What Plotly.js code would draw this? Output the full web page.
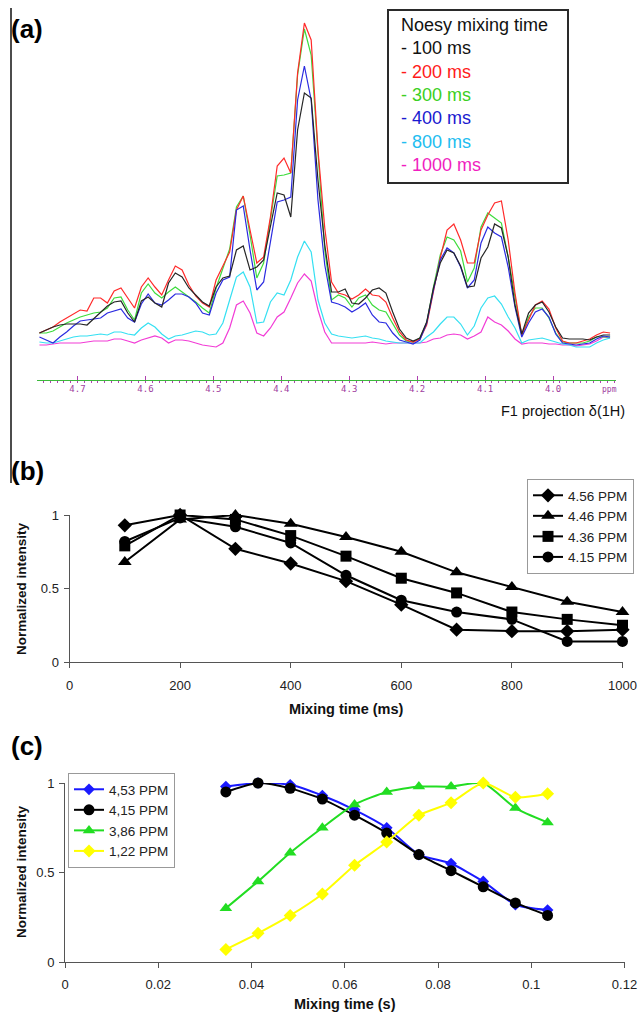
<!DOCTYPE html>
<html><head><meta charset="utf-8">
<script src="https://cdn.plot.ly/plotly-3.0.1.min.js"></script>
<style>html,body{margin:0;padding:0;background:#fff}#chart{width:640px;height:1014px}</style>
</head><body><div id="chart"></div>
<script>
// ---------- Panel (a): F1 projections (chemical shift, ppm) ----------
const ppm = [4.756,4.746,4.736,4.726,4.716,4.706,4.696,4.686,4.676,4.666,4.656,4.646,4.636,4.626,4.616,4.606,4.596,4.586,4.576,4.566,4.556,4.546,4.536,4.526,4.516,4.506,4.496,4.486,4.476,4.466,4.456,4.446,4.436,4.426,4.416,4.406,4.396,4.386,4.376,4.366,4.356,4.346,4.336,4.326,4.316,4.306,4.296,4.286,4.276,4.266,4.256,4.246,4.236,4.226,4.216,4.206,4.196,4.186,4.176,4.166,4.156,4.146,4.136,4.126,4.116,4.106,4.096,4.086,4.076,4.066,4.056,4.046,4.036,4.026,4.016,4.006,3.996,3.986,3.976,3.966,3.956,3.946,3.936,3.926,3.916];
const spec100 = [17,20,23,25,26,26,26,25,31,37,44,48,49,37,28,49,53,47,43,67,77,73,62,55,48,44,63,72,74,100,104,80,83,90,125,157,155,133,220,257,252,170,105,58,58,61,47,46,52,60,62,57,38,21,12,9,12,28,62,87,100,97,84,63,64,92,103,126,122,93,45,16,37,45,48,38,23,12,11,11,11,10,13,15,15];
const spec200 = [17,20,23,28,32,36,40,39,52,52,47,59,62,52,42,63,72,63,55,70,84,80,65,54,47,43,70,84,98,140,154,120,87,93,133,184,192,177,277,327,310,200,122,68,57,55,51,55,61,55,54,48,32,18,10,8,11,25,57,92,120,126,110,87,87,120,135,147,149,110,57,15,30,45,49,41,22,9,7,7,9,11,15,18,17];
const spec300 = [17,17,19,23,27,30,33,35,37,38,42,52,53,40,30,57,66,57,52,58,63,58,53,48,42,37,62,82,101,143,154,115,72,87,130,174,175,177,275,321,295,195,100,50,55,52,43,52,55,45,40,38,27,15,9,8,12,27,63,95,113,110,99,68,82,123,137,132,127,93,53,14,33,42,42,32,17,8,7,7,7,9,13,13,13];
const spec400 = [13,10,7,13,18,24,29,30,31,32,37,39,41,32,28,46,56,47,45,50,56,56,53,47,37,35,57,70,73,140,144,100,60,68,110,148,150,153,250,284,250,150,85,48,46,43,38,42,47,35,28,27,17,10,8,6,10,27,60,90,102,97,83,62,70,107,123,117,113,83,43,13,27,38,41,33,16,7,6,5,6,7,11,14,13];
const spec800 = [8,7,7,9,11,13,14,14,15,16,15,18,18,16,15,22,27,23,16,11,14,15,17,19,18,15,16,27,50,73,78,63,27,28,48,57,55,70,93,109,98,50,27,16,14,13,12,13,14,12,11,9,8,7,7,7,7,13,18,26,33,33,26,15,24,42,52,54,46,33,22,7,10,11,12,10,8,6,5,3,3,3,7,10,12];
const spec1000 = [5,5,6,7,7,7,7,8,9,9,9,11,11,9,7,10,12,14,12,7,10,10,9,7,5,4,3,7,22,45,49,37,17,14,22,33,38,52,67,76,69,40,18,7,7,7,7,7,7,8,7,6,7,7,7,7,7,8,11,12,15,16,15,11,14,18,33,28,25,19,11,6,7,7,7,6,6,5,5,4,5,6,9,13,12];
const specNames = ['100 ms','200 ms','300 ms','400 ms','800 ms','1000 ms'];
const specTickVals = [4.7,4.6,4.5,4.4,4.3,4.2,4.1,4.0];
const specTickText = ['4.7','4.6','4.5','4.4','4.3','4.2','4.1','4.0'];

// ---------- Panel (b) ----------
const mixB = [100,200,300,400,500,600,700,800,900,1000];
const b456 = [0.93,1.0,0.77,0.67,0.55,0.39,0.22,0.21,0.21,0.22];
const b446 = [0.68,0.97,1.0,0.94,0.85,0.75,0.61,0.51,0.41,0.34];
const b436 = [0.79,1.0,0.97,0.86,0.72,0.57,0.47,0.34,0.29,0.25];
const b415 = [0.82,0.98,0.92,0.81,0.59,0.42,0.34,0.29,0.14,0.14];
const bNames = ['4.56 PPM','4.46 PPM','4.36 PPM','4.15 PPM'];
const bTicks = [0,200,400,600,800,1000];

// ---------- Panel (c) ----------
const mixC = [0.0345,0.0414,0.0483,0.0552,0.0621,0.069,0.0759,0.0828,0.0897,0.0966,0.1035];
const c453 = [0.98,1.0,0.99,0.93,0.85,0.75,0.60,0.55,0.45,0.32,0.29];
const c415 = [0.95,1.0,0.97,0.91,0.82,0.72,0.60,0.51,0.42,0.33,0.26];
const c386 = [0.30,0.45,0.61,0.75,0.88,0.95,0.98,0.98,1.0,0.86,0.78];
const c122 = [0.07,0.16,0.26,0.38,0.54,0.67,0.82,0.89,1.0,0.92,0.94];
const cNames = ['4,53 PPM','4,15 PPM','3,86 PPM','1,22 PPM'];
const cTickVals = [0,0.02,0.04,0.06,0.08,0.1,0.12];
const cTickText = ['0','0.02','0.04','0.06','0.08','0.1','0.12'];

// ---------- styling ----------
const W = 640, H = 1014;
const px = v => v / W;
const py = v => 1 - v / H;
const FONT = 'Liberation Sans, Arial, sans-serif';

const specData = [spec100, spec200, spec300, spec400, spec800, spec1000];
const specLine = ['#262626','#ff2a2a','#3ddc3d','#2a2ae0','#35e0f2','#f23cd6'];
const specText = ['#111111','#ff1a1a','#3ccf22','#1a1ad0','#22bdf0','#f01ec0'];
const drawOrder = [5,4,2,1,3,0];

const traces = [];
drawOrder.forEach(i => {
  traces.push({x: ppm, y: specData[i], type:'scatter', mode:'lines', xaxis:'x', yaxis:'y',
    line:{color: specLine[i], width:1.2}, showlegend:false, hoverinfo:'skip', name: specNames[i]});
});

const bSeries = [b456,b446,b436,b415];
const bSymbols = ['diamond','triangle-up','square','circle'];
const bSizes = [11,12,11,11];
bSeries.forEach((s,i) => {
  traces.push({x: mixB, y: s, type:'scatter', mode:'lines+markers', xaxis:'x2', yaxis:'y2',
    name: bNames[i], legend:'legend', cliponaxis:false,
    line:{color:'#000', width:2}, marker:{symbol:bSymbols[i], size:bSizes[i], color:'#000'}});
});

const cSeries = [c453,c415,c386,c122];
const cColors = ['#1a1aff','#000000','#22dd22','#ffff00'];
const cSymbols = ['diamond','circle','triangle-up','diamond'];
const cSizes = [9,11,11,10];
cSeries.forEach((s,i) => {
  traces.push({x: mixC, y: s, type:'scatter', mode:'lines+markers', xaxis:'x3', yaxis:'y3',
    name: cNames[i], legend:'legend2', cliponaxis:false,
    line:{color:cColors[i], width:2, shape:'spline', smoothing:0.6},
    marker:{symbol:cSymbols[i], size:cSizes[i], color:cColors[i]}});
});

const axTick = {family: FONT, size: 13, color: '#222'};
const annotations = [
  {text:'<b>(a)</b>', x:px(9), y:py(29), xanchor:'left', yanchor:'middle', font:{family:FONT, size:26, color:'#000'}},
  {text:'<b>(b)</b>', x:px(9), y:py(471), xanchor:'left', yanchor:'middle', font:{family:FONT, size:26, color:'#000'}},
  {text:'<b>(c)</b>', x:px(9), y:py(746), xanchor:'left', yanchor:'middle', font:{family:FONT, size:26, color:'#000'}},
  {text:'Noesy mixing time', x:px(399), y:py(25), xanchor:'left', yanchor:'middle', font:{family:FONT, size:18, color:'#111'}},
  {text:'F1 projection \u03b4(1H)', x:px(627), y:py(411), xanchor:'right', yanchor:'middle', font:{family:FONT, size:14.5, color:'#111'}},
  {text:'ppm', x:px(609), y:py(390), xanchor:'center', yanchor:'middle', font:{family:'DejaVu Sans Mono, monospace', size:8, color:'#a040a0'}},
  {text:'<b>Normalized intensity</b>', x:px(21), y:py(589), textangle:-90, xanchor:'center', yanchor:'middle', font:{family:FONT, size:13.5, color:'#111'}},
  {text:'<b>Mixing time (ms)</b>', x:px(346), y:py(709), xanchor:'center', yanchor:'middle', font:{family:FONT, size:14.5, color:'#111'}},
  {text:'<b>Normalized intensity</b>', x:px(21), y:py(872), textangle:-90, xanchor:'center', yanchor:'middle', font:{family:FONT, size:13.5, color:'#111'}},
  {text:'<b>Mixing time (s)</b>', x:px(345), y:py(1004), xanchor:'center', yanchor:'middle', font:{family:FONT, size:14.5, color:'#111'}}
];
const legendRows = [48,72,95,118,142,165];
specNames.forEach((n,i) => {
  annotations.push({text:'- ' + n, x:px(399), y:py(legendRows[i]), xanchor:'left', yanchor:'middle',
    font:{family:FONT, size:18, color:specText[i]}});
});
annotations.forEach(a => { a.xref='paper'; a.yref='paper'; a.showarrow=false; });

const shapes = [
  {type:'line', xref:'paper', yref:'paper', x0:px(11), x1:px(11), y0:py(8), y1:py(483), line:{color:'#111', width:1.5}},
  {type:'rect', xref:'paper', yref:'paper', x0:px(388), x1:px(568), y0:py(10), y1:py(183), line:{color:'#2a2a2a', width:2}, fillcolor:'rgba(255,255,255,0)', layer:'above'}
];

const layout = {
  width:W, height:H, margin:{l:0,r:0,t:0,b:0}, paper_bgcolor:'#fff', plot_bgcolor:'rgba(0,0,0,0)',
  font:{family:FONT, color:'#222'},
  showlegend:true,
  xaxis:{domain:[px(37), px(616)], range:[4.7596, 3.9073], anchor:'y', showgrid:false, zeroline:false,
    showline:true, linecolor:'#3cb83c', linewidth:1,
    tickmode:'array', tickvals:specTickVals, ticktext:specTickText,
    ticks:'inside', ticklen:4, tickcolor:'#b040b0', tickwidth:1,
    minor:{tickmode:'linear', tick0:4.0, dtick:0.01, ticks:'outside', ticklen:2, tickcolor:'#b040b0', showgrid:false},
    tickfont:{family:'DejaVu Sans Mono, monospace', size:9, color:'#a040a0'}, fixedrange:true},
  yaxis:{domain:[py(380), 1], range:[-30, 350], anchor:'x', visible:false, fixedrange:true},
  xaxis2:{domain:[px(69.5), px(622.5)], range:[0,1000], anchor:'y2', showgrid:false, zeroline:false,
    showline:true, linecolor:'#555', linewidth:1, tickmode:'array', tickvals:bTicks,
    ticks:'outside', ticklen:5, tickcolor:'#555', tickfont:axTick, ticklabelstandoff:6},
  yaxis2:{domain:[py(662), py(515)], range:[0,1], anchor:'x2', showgrid:false, zeroline:false,
    showline:true, linecolor:'#555', linewidth:1, tickmode:'array', tickvals:[0,0.5,1], ticktext:['0','0.5','1'],
    ticks:'outside', ticklen:5, tickcolor:'#555', tickfont:axTick, ticklabelstandoff:2},
  xaxis3:{domain:[px(65), px(624.5)], range:[0,0.12], anchor:'y3', showgrid:false, zeroline:false,
    showline:true, linecolor:'#555', linewidth:1, tickmode:'array', tickvals:cTickVals, ticktext:cTickText,
    ticks:'outside', ticklen:5, tickcolor:'#555', tickfont:axTick, ticklabelstandoff:5},
  yaxis3:{domain:[py(962), py(783)], range:[0,1], anchor:'x3', showgrid:false, zeroline:false,
    showline:true, linecolor:'#555', linewidth:1, tickmode:'array', tickvals:[0,0.5,1], ticktext:['0','0.5','1'],
    ticks:'outside', ticklen:5, tickcolor:'#555', tickfont:axTick, ticklabelstandoff:2},
  legend:{x:px(527), y:py(479), xanchor:'left', yanchor:'top', bgcolor:'#fff', bordercolor:'#999', borderwidth:1,
    font:{family:FONT, size:13.5, color:'#222'}, tracegroupgap:0, itemwidth:30},
  legend2:{x:px(68), y:py(773), xanchor:'left', yanchor:'top', bgcolor:'#fff', bordercolor:'#999', borderwidth:1,
    font:{family:FONT, size:13.5, color:'#222'}, tracegroupgap:0, itemwidth:30},
  annotations: annotations,
  shapes: shapes
};

Plotly.newPlot('chart', traces, layout, {displayModeBar:false, staticPlot:true});
</script>
</body></html>
